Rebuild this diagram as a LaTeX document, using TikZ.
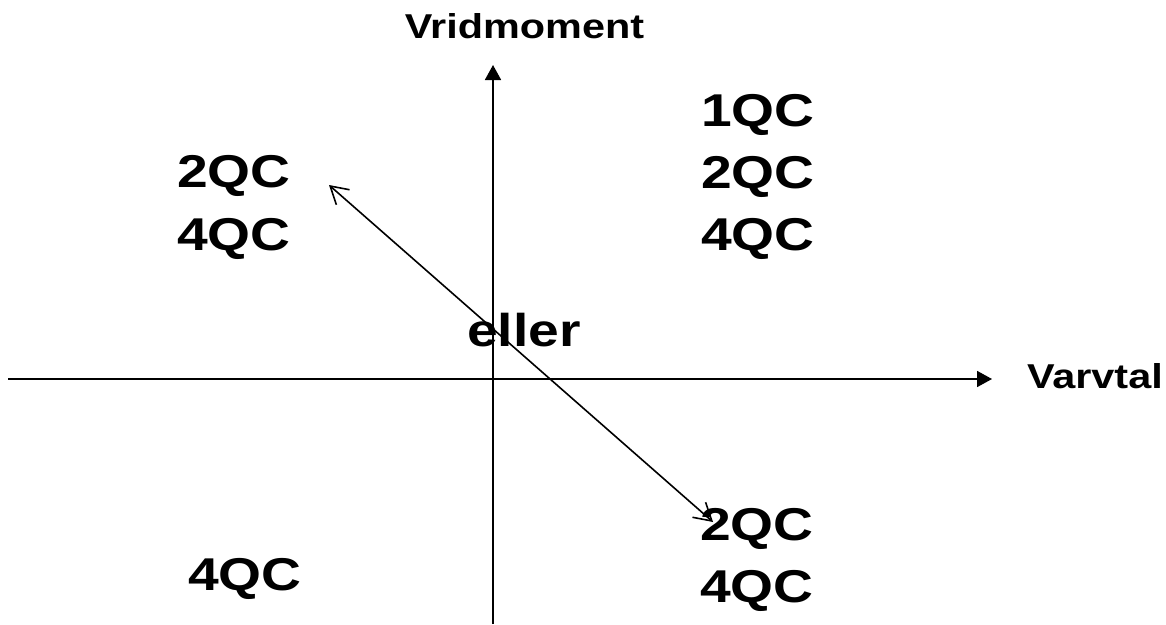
\documentclass[tikz,border=0pt]{standalone}
\usepackage{fontspec}
\setmainfont{Liberation Sans}
\usetikzlibrary{arrows.meta}
\newcommand{\wtext}[1]{\scalebox{1.2}[1]{#1}}
\tikzset{
  biglabel/.style={font=\fontsize{46}{50}\selectfont\bfseries, inner sep=0pt, anchor=base},
  smalllabel/.style={font=\fontsize{34.5}{38}\selectfont\bfseries, inner sep=0pt, anchor=base},
  axis/.style={line width=1.8pt, -{Triangle[length=15pt,width=16pt]}},
  diag/.style={line width=1.6pt, {Straight Barb[length=17pt,width=20pt]}-{Straight Barb[length=17pt,width=20pt]}}
}
\begin{document}
\begin{tikzpicture}[x=1pt,y=-1pt]
  \useasboundingbox (0,0) rectangle (1166,624);
  % axes
  \coordinate (vb) at (493,624);
  \coordinate (vt) at (493,65);
  \coordinate (hl) at (8,379);
  \coordinate (hr) at (992,379);
  \draw[axis] (vb) -- (vt);
  \draw[axis] (hl) -- (hr);
  % axis labels
  \node[smalllabel] (vrid) at (524.5,38) {\wtext{Vridmoment}};
  \node[smalllabel, anchor=base east] (varv) at (1163,388) {\wtext{Varvtal}};
  % quadrant labels
  \node[biglabel] (q1a) at (758,126) {\wtext{1QC}};
  \node[biglabel] (q1b) at (758,188) {\wtext{2QC}};
  \node[biglabel] (q1c) at (758,250) {\wtext{4QC}};
  \node[biglabel] (q2a) at (234,187) {\wtext{2QC}};
  \node[biglabel] (q2b) at (234,250) {\wtext{4QC}};
  \node[biglabel] (eller) at (524,346) {\wtext{eller}};
  \node[biglabel] (q4a) at (757,540) {\wtext{2QC}};
  \node[biglabel] (q4b) at (757,602) {\wtext{4QC}};
  \node[biglabel] (q3) at (245,590) {\wtext{4QC}};
  % diagonal double arrow
  \coordinate (d1) at (329,185);
  \coordinate (d2) at (713,522);
  \draw[diag] (d1) -- (d2);
\end{tikzpicture}
\end{document}
